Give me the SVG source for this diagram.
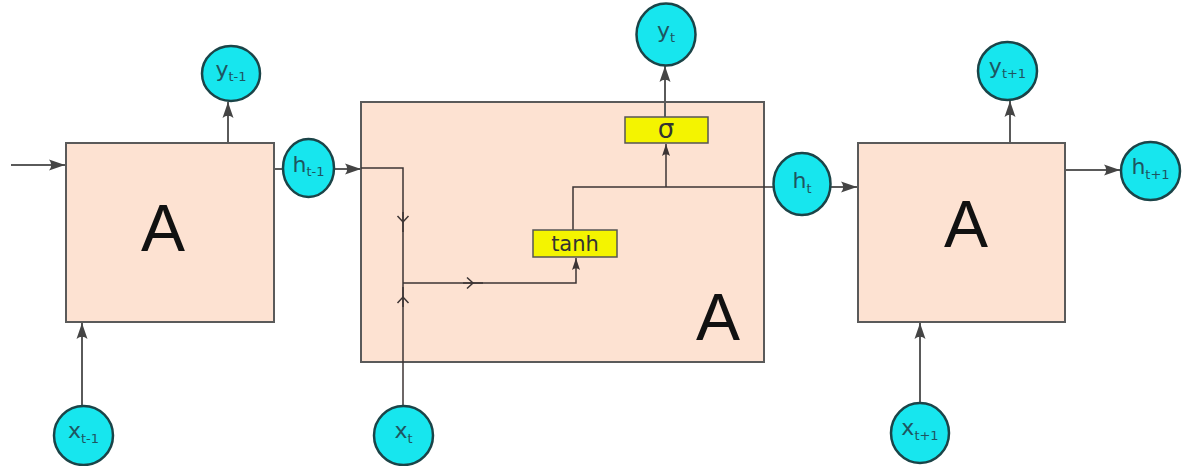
<svg xmlns="http://www.w3.org/2000/svg" width="1183" height="466" viewBox="0 0 1183 466">
<style>
.cell{fill:#fde2d2;stroke:#5a5a5a;stroke-width:2}
.gate{fill:#f4f400;stroke:#555;stroke-width:1.5}
.node{fill:#17e6ee;stroke:#1b4448;stroke-width:2.5}
.lbl{font-family:"DejaVu Sans",sans-serif;font-size:22px;fill:#1e5560;text-anchor:middle}
.sub{font-size:13px}
.big{font-family:"Liberation Sans",sans-serif;font-size:66px;fill:#111;text-anchor:middle}
.gt{font-family:"DejaVu Sans",sans-serif;fill:#333;text-anchor:middle}
.out{fill:none;stroke:#5a5a5a;stroke-width:2}
.in{fill:none;stroke:#3c3434;stroke-width:1.5}
</style>
<defs>
<marker id="arr" markerUnits="userSpaceOnUse" viewBox="-18 -8 20 16" refX="0" refY="0" markerWidth="20" markerHeight="16" orient="auto">
<path d="M0,0 L-16,-5.5 Q-11.5,0 -16,5.5 Z" fill="#444"/>
</marker>
<marker id="arrs" markerUnits="userSpaceOnUse" viewBox="-14 -6 16 12" refX="0" refY="0" markerWidth="16" markerHeight="12" orient="auto">
<path d="M0,0 L-12,-4 Q-8.5,0 -12,4 Z" fill="#3c3434"/>
</marker>
<marker id="chev" markerUnits="userSpaceOnUse" viewBox="-10 -8 12 16" refX="0" refY="0" markerWidth="12" markerHeight="16" orient="auto">
<path d="M-6,-5.5 L0,0 L-6,5.5" fill="none" stroke="#3c3434" stroke-width="1.5"/>
</marker>
</defs>
<g id="cell-left">
<rect class="cell" x="66" y="143" width="208" height="179"/>
<text class="big" x="163" y="251">A</text>
</g>
<g id="cell-mid">
<rect class="cell" x="361" y="102" width="403" height="260"/>
<text class="big" x="718" y="340">A</text>
</g>
<g id="cell-right">
<rect class="cell" x="858" y="143" width="207" height="179"/>
<text class="big" x="966" y="247">A</text>
</g>
<g id="connectors">
<path class="out" d="M11,165 H65" marker-end="url(#arr)"/>
<path class="out" d="M228,143 V102" marker-end="url(#arr)"/>
<path class="out" d="M274,169 H283"/>
<path class="out" d="M334,169 H361" marker-end="url(#arr)"/>
<path class="in" d="M361,168 H403 V283"/>
<path class="in" d="M403,212 L403,222 L403,232" marker-mid="url(#chev)"/>
<path class="in" d="M403,406 V283"/>
<path class="in" d="M403,307 L403,297 L403,287" marker-mid="url(#chev)"/>
<path class="in" d="M403,283 H576 V258" marker-end="url(#arrs)"/>
<path class="in" d="M463,283 L473,283 L483,283" marker-mid="url(#chev)"/>
<path class="in" d="M573,230 V187 H774"/>
<path class="in" d="M666,187 V144" marker-end="url(#arrs)"/>
<path class="out" d="M665,117 V66" marker-end="url(#arr)"/>
<path class="out" d="M830,187 H857" marker-end="url(#arr)"/>
<path class="out" d="M1010,143 V101" marker-end="url(#arr)"/>
<path class="out" d="M1065,170 H1120" marker-end="url(#arr)"/>
<path class="out" d="M82,406 V323" marker-end="url(#arr)"/>
<path class="out" d="M920,403 V323" marker-end="url(#arr)"/>
</g>
<g id="gate-tanh">
<rect class="gate" x="533" y="230" width="84" height="27"/>
<text class="gt" x="575" y="251" font-size="21">tanh</text>
</g>
<g id="gate-sigma">
<rect class="gate" x="625" y="117" width="83" height="26"/>
<text class="gt" x="666" y="138" font-size="26">σ</text>
</g>
<g id="node-y-tm1">
<ellipse class="node" cx="231" cy="73.5" rx="29" ry="27.5"/>
<text class="lbl" x="231" y="77">y<tspan class="sub" dy="4">t-1</tspan></text>
</g>
<g id="node-h-tm1">
<ellipse class="node" cx="308.5" cy="168" rx="25.5" ry="29"/>
<text class="lbl" x="308.5" y="172">h<tspan class="sub" dy="4">t-1</tspan></text>
</g>
<g id="node-y-t">
<ellipse class="node" cx="666" cy="34.5" rx="29.5" ry="31"/>
<text class="lbl" x="666" y="38">y<tspan class="sub" dy="4">t</tspan></text>
</g>
<g id="node-h-t">
<ellipse class="node" cx="802" cy="184" rx="28.5" ry="31"/>
<text class="lbl" x="802" y="188">h<tspan class="sub" dy="5">t</tspan></text>
</g>
<g id="node-y-tp1">
<ellipse class="node" cx="1007.5" cy="71" rx="29.5" ry="29"/>
<text class="lbl" x="1007.5" y="74">y<tspan class="sub" dy="4">t+1</tspan></text>
</g>
<g id="node-h-tp1">
<ellipse class="node" cx="1150.5" cy="171" rx="29.5" ry="29"/>
<text class="lbl" x="1150.5" y="174">h<tspan class="sub" dy="5">t+1</tspan></text>
</g>
<g id="node-x-tm1">
<ellipse class="node" cx="83.5" cy="435.5" rx="29.5" ry="29.5"/>
<text class="lbl" x="83.5" y="438">x<tspan class="sub" dy="5">t-1</tspan></text>
</g>
<g id="node-x-t">
<ellipse class="node" cx="403.5" cy="435.5" rx="29.5" ry="29.5"/>
<text class="lbl" x="403.5" y="438">x<tspan class="sub" dy="5">t</tspan></text>
</g>
<g id="node-x-tp1">
<ellipse class="node" cx="920" cy="433" rx="29" ry="30"/>
<text class="lbl" x="920" y="435">x<tspan class="sub" dy="5">t+1</tspan></text>
</g>
</svg>
